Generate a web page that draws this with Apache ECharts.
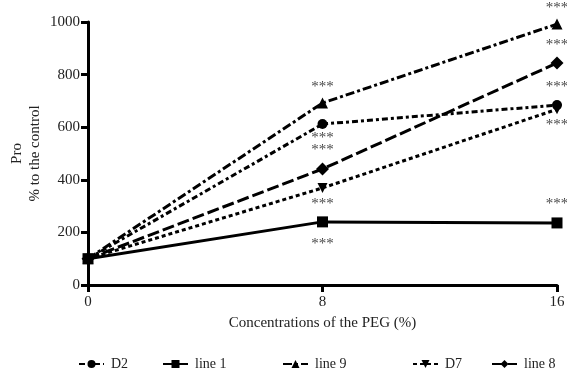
<!DOCTYPE html>
<html><head><meta charset="utf-8">
<script src="https://cdn.jsdelivr.net/npm/echarts@6/dist/echarts.min.js"></script>
<style>html,body{margin:0;padding:0;background:#fff}#c{width:567px;height:368px}</style>
</head><body><div id="c"></div>
<script>
var xValues = [0, 8, 16];
var D2 = [100, 612, 684];
var line1 = [100, 240, 236];
var line9 = [100, 692, 992];
var D7 = [100, 369, 668];
var line8 = [100, 441, 844];
var starX = [8, 8, 8, 8, 8, 16, 16, 16, 16, 16];
var starY = [753, 559, 513, 308, 156, 1053, 913, 753, 610, 308];
var seriesNames = ['D2', 'line 1', 'line 9', 'D7', 'line 8'];

var font = 'Liberation Serif';
function pairs(v){ return xValues.map(function(x,i){ return [x, v[i]]; }); }
function mk(name, data, symbol, dash, size){
  return {
    name: name, type: 'line', data: pairs(data), symbol: symbol, symbolSize: size,
    itemStyle: {color: '#000'},
    lineStyle: {color: '#000', width: 3, type: dash},
    animation: false, z: 3
  };
}
var chart = echarts.init(document.getElementById('c'));
var legendLefts = [73, 157, 277, 407, 486];
var legends = seriesNames.map(function(n, i){
  return {
    data: [n], left: legendLefts[i], top: 352, itemWidth: 25, itemHeight: 10,
    textStyle: {fontFamily: font, fontSize: 14, color: '#222', padding: [0, 0, 0, 2]}, itemGap: 8
  };
});
chart.setOption({
  animation: false,
  grid: {left: 88, right: 10, top: 22, bottom: 83, containLabel: false, outerBoundsMode: 'none'},
  legend: legends,
  xAxis: {
    type: 'value', min: 0, max: 16, interval: 8,
    name: 'Concentrations of the PEG (%)', nameLocation: 'middle', nameGap: 31, nameMoveOverlap: false,
    nameTextStyle: {fontFamily: font, fontSize: 15, color: '#222'},
    axisLine: {lineStyle: {color: '#000', width: 3}},
    axisTick: {lineStyle: {color: '#000', width: 3}, length: 7},
    axisLabel: {fontFamily: font, fontSize: 15, color: '#222', margin: 10},
    splitLine: {show: false}
  },
  yAxis: {
    type: 'value', min: 0, max: 1000, interval: 200,
    name: 'Pro\n% to the control', nameLocation: 'middle', nameGap: 44, nameRotate: 90, nameMoveOverlap: false,
    nameTextStyle: {fontFamily: font, fontSize: 15, color: '#222', lineHeight: 18},
    axisLine: {lineStyle: {color: '#000', width: 3}},
    axisTick: {lineStyle: {color: '#000', width: 3}, length: 7},
    axisLabel: {fontFamily: font, fontSize: 15, color: '#222', margin: 8, formatter: function(v){ return String(v); }},
    splitLine: {show: false}
  },
  series: [
    mk('D2', D2, 'circle', [6, 3, 3, 3], 10),
    mk('line 1', line1, 'rect', 'solid', 11),
    mk('line 9', line9, 'triangle', [9, 3, 3, 3], 11),
    mk('D7', D7, 'path://M0,0 L10,0 L5,10 Z', [4, 3], 10),
    mk('line 8', line8, 'diamond', [12, 4], 13),
    {
      type: 'scatter', name: 'stars', clip: false, symbolSize: 0, animation: false,
      data: starX.map(function(x, i){ return [x, starY[i]]; }),
      label: {show: true, position: 'inside', formatter: '***', fontFamily: font, fontSize: 15, color: '#111'},
      silent: true
    }
  ]
});
</script></body></html>
